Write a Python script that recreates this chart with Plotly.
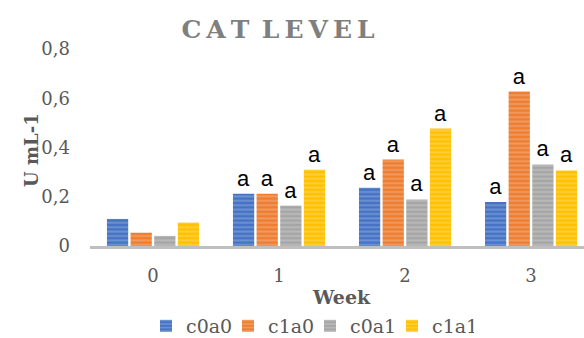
import plotly.graph_objects as go

# Weekly CAT activity per treatment
weeks = ["0", "1", "2", "3"]
series_names = ["c0a0", "c1a0", "c0a1", "c1a1"]
c0a0 = [0.110, 0.212, 0.237, 0.179]
c1a0 = [0.054, 0.212, 0.351, 0.627]
c0a1 = [0.041, 0.164, 0.189, 0.331]
c1a1 = [0.095, 0.310, 0.477, 0.307]
letters = ["", "a", "a", "a"]

y_tickvals = [0, 0.2, 0.4, 0.6, 0.8]
y_ticktext = ["0", "0,2", "0,4", "0,6", "0,8"]

colors = ["#4472C4", "#ED7D31", "#A5A5A5", "#FFC000"]
values = [c0a0, c1a0, c0a1, c1a1]

SERIF = "DejaVu Serif"
GRAY = "#595959"

fig = go.Figure()
for name, vals, col in zip(series_names, values, colors):
    fig.add_trace(go.Bar(
        name=name,
        x=weeks,
        y=vals,
        text=letters,
        textposition="outside",
        cliponaxis=False,
        textfont=dict(family="Liberation Sans", size=22, color="#000000"),
        marker=dict(
            color=col,
            line=dict(width=0),
            pattern=dict(shape="-", fgcolor="rgba(255,255,255,0.45)",
                         size=4.4, solidity=0.45, fillmode="overlay"),
        ),
    ))

fig.update_layout(
    width=584,
    height=338,
    margin=dict(l=90, r=0, t=49, b=92, autoexpand=False),
    paper_bgcolor="white",
    plot_bgcolor="white",
    barmode="group",
    bargap=0.25,
    bargroupgap=0.1,
    showlegend=True,
    legend=dict(
        orientation="h",
        xref="container", yref="container",
        x=146 / 584, xanchor="left",
        y=1 - 326 / 338, yanchor="middle",
        font=dict(family=SERIF, size=19, color=GRAY),
        itemwidth=30,
        entrywidth=37,
        tracegroupgap=0,
    ),
    title=dict(
        text="C\u2009A\u2009T\u2002L\u2009E\u2009V\u2009E\u2009L",
        x=278 / 584, xanchor="center",
        y=1 - 29 / 338, yanchor="middle",
        font=dict(family=SERIF, size=25, color="#7F7F7F", weight="bold"),
    ),
    xaxis=dict(
        type="category",
        range=[-0.5, 3.42],
        showgrid=False,
        showline=True,
        linecolor="#BFBFBF",
        linewidth=3,
        ticks="",
        tickfont=dict(family=SERIF, size=18, color=GRAY),
        ticklabelstandoff=11,
    ),
    yaxis=dict(
        range=[0, 0.8],
        showgrid=False,
        showline=False,
        zeroline=False,
        tickvals=y_tickvals,
        ticktext=y_ticktext,
        ticks="",
        tickfont=dict(family=SERIF, size=18, color=GRAY),
        ticklabelstandoff=19,
    ),
    annotations=[
        dict(text="Week", xref="paper", yref="paper",
             x=(341 - 90) / 494, y=-(297 - 246) / 197, xanchor="center", yanchor="middle",
             showarrow=False,
             font=dict(family=SERIF, size=19, color=GRAY, weight="bold")),
        dict(text="U mL-1", xref="paper", yref="paper",
             x=-(90 - 31) / 494, y=(246 - 150) / 197, xanchor="center", yanchor="middle",
             textangle=-90, showarrow=False,
             font=dict(family=SERIF, size=18, color=GRAY, weight="bold")),
    ],
)

fig.write_html("out.html")
